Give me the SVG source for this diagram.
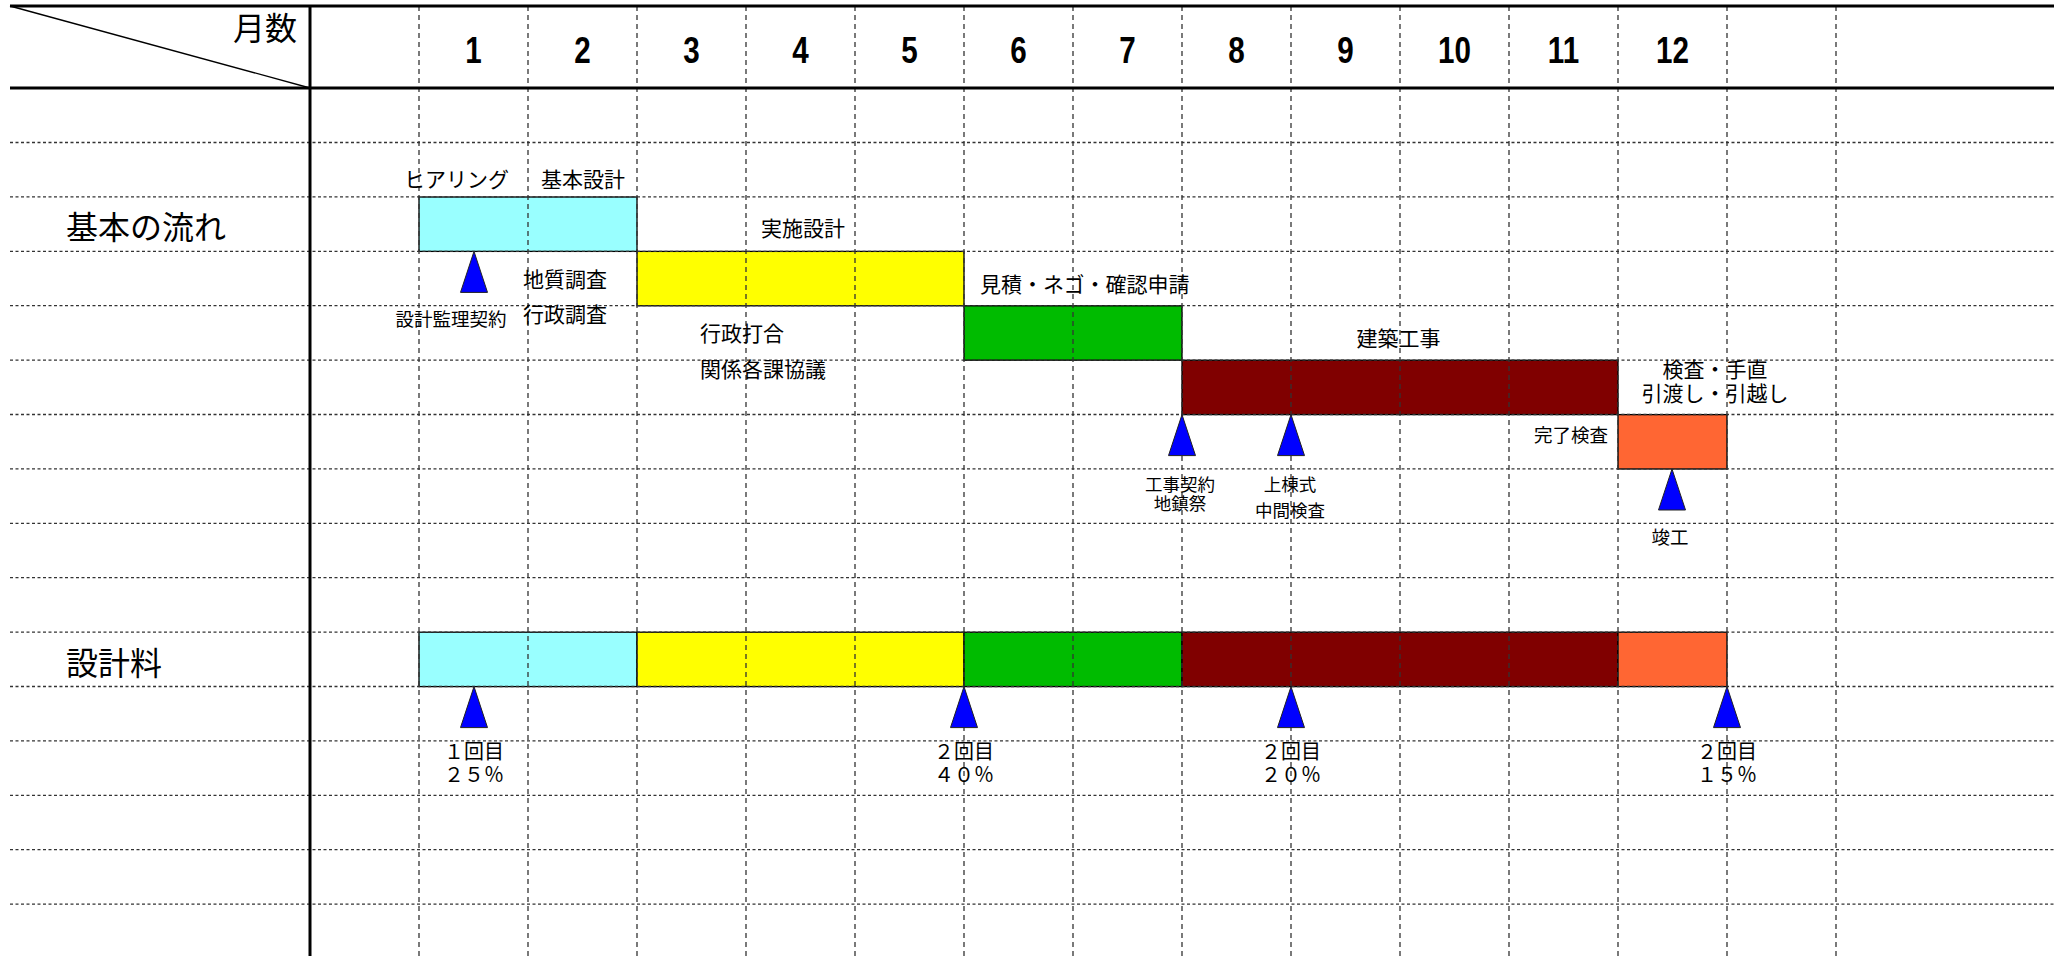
<svg xmlns="http://www.w3.org/2000/svg" width="2060" height="956" viewBox="0 0 2060 956">
<style>
.solid{stroke:#000;stroke-width:3;fill:none}
.hgrid{stroke:#333;stroke-width:1.3;stroke-dasharray:3 2.5;fill:none}
.vgrid{stroke:#333;stroke-width:1.3;stroke-dasharray:5 4;fill:none}
.bar{stroke:#000;stroke-width:1.3}
.c1{fill:#99FFFF}.c2{fill:#FFFF00}.c3{fill:#00BB00}.c4{fill:#800000}.c5{fill:#FF6633}
.tri{fill:#0000FF;stroke:#222;stroke-width:1}
text{font-family:"Noto Sans CJK JP","Noto Sans",sans-serif;fill:#000;font-weight:normal}
.lbl{font-size:21px}
.sm{font-size:18.5px}
.xs{font-size:17.5px}
.pay{font-size:20px}
.head{font-size:32px}
.num{font-family:"Liberation Sans",Arial,sans-serif;font-size:37px;font-weight:bold;text-anchor:middle}
.mid{text-anchor:middle}
</style>
<defs>
<path id="tri" class="tri" d="M0,0 L13.5,41 L-13.5,41 Z"/>
</defs>

<g id="bars-flow">
<g id="bar-hearing"><rect class="bar c1" x="419" y="197" width="218" height="54.4"/></g>
<g id="bar-jisshi"><rect class="bar c2" x="637" y="251.4" width="327" height="54.4"/></g>
<g id="bar-mitsumori"><rect class="bar c3" x="964" y="305.8" width="218" height="54.4"/></g>
<g id="bar-kenchiku"><rect class="bar c4" x="1182" y="360.2" width="436" height="54.4"/></g>
<g id="bar-kensa"><rect class="bar c5" x="1618" y="414.6" width="109" height="54.4"/></g>
</g>
<g id="bars-fee">
<g id="fee-1"><rect class="bar c1" x="419" y="632.2" width="218" height="54.4"/></g>
<g id="fee-2"><rect class="bar c2" x="637" y="632.2" width="327" height="54.4"/></g>
<g id="fee-3"><rect class="bar c3" x="964" y="632.2" width="218" height="54.4"/></g>
<g id="fee-4"><rect class="bar c4" x="1182" y="632.2" width="436" height="54.4"/></g>
<g id="fee-5"><rect class="bar c5" x="1618" y="632.2" width="109" height="54.4"/></g>
</g>

<g id="connectors">
<g id="hgrid">
<line class="hgrid" x1="10" y1="142.5" x2="2054" y2="142.5"/>
<line class="hgrid" x1="10" y1="196.9" x2="2054" y2="196.9"/>
<line class="hgrid" x1="10" y1="251.3" x2="2054" y2="251.3"/>
<line class="hgrid" x1="10" y1="305.7" x2="2054" y2="305.7"/>
<line class="hgrid" x1="10" y1="360.1" x2="2054" y2="360.1"/>
<line class="hgrid" x1="10" y1="414.5" x2="2054" y2="414.5"/>
<line class="hgrid" x1="10" y1="468.9" x2="2054" y2="468.9"/>
<line class="hgrid" x1="10" y1="523.3" x2="2054" y2="523.3"/>
<line class="hgrid" x1="10" y1="577.7" x2="2054" y2="577.7"/>
<line class="hgrid" x1="10" y1="632.1" x2="2054" y2="632.1"/>
<line class="hgrid" x1="10" y1="686.5" x2="2054" y2="686.5"/>
<line class="hgrid" x1="10" y1="740.9" x2="2054" y2="740.9"/>
<line class="hgrid" x1="10" y1="795.3" x2="2054" y2="795.3"/>
<line class="hgrid" x1="10" y1="849.7" x2="2054" y2="849.7"/>
<line class="hgrid" x1="10" y1="904.1" x2="2054" y2="904.1"/>
</g>
<g id="vgrid">
<line class="vgrid" x1="419" y1="6" x2="419" y2="956"/>
<line class="vgrid" x1="528" y1="6" x2="528" y2="956"/>
<line class="vgrid" x1="637" y1="6" x2="637" y2="956"/>
<line class="vgrid" x1="746" y1="6" x2="746" y2="956"/>
<line class="vgrid" x1="855" y1="6" x2="855" y2="956"/>
<line class="vgrid" x1="964" y1="6" x2="964" y2="956"/>
<line class="vgrid" x1="1073" y1="6" x2="1073" y2="956"/>
<line class="vgrid" x1="1182" y1="6" x2="1182" y2="956"/>
<line class="vgrid" x1="1291" y1="6" x2="1291" y2="956"/>
<line class="vgrid" x1="1400" y1="6" x2="1400" y2="956"/>
<line class="vgrid" x1="1509" y1="6" x2="1509" y2="956"/>
<line class="vgrid" x1="1618" y1="6" x2="1618" y2="956"/>
<line class="vgrid" x1="1727" y1="6" x2="1727" y2="956"/>
<line class="vgrid" x1="1836" y1="6" x2="1836" y2="956"/>
</g>
<g id="frame">
<line class="solid" x1="10" y1="6" x2="2054" y2="6"/>
<line class="solid" x1="10" y1="88" x2="2054" y2="88"/>
<line class="solid" x1="310" y1="6" x2="310" y2="956"/>
<line stroke="#000" stroke-width="1.3" x1="10" y1="6" x2="310" y2="88"/>
</g>
</g>

<g id="milestones">
<use href="#tri" x="474" y="251.4"/>
<use href="#tri" x="1182" y="414.6"/>
<use href="#tri" x="1291" y="414.6"/>
<use href="#tri" x="1672" y="469"/>
<use href="#tri" x="474" y="686.6"/>
<use href="#tri" x="964" y="686.6"/>
<use href="#tri" x="1291" y="686.6"/>
<use href="#tri" x="1727" y="686.6"/>
</g>

<g id="header">
<text x="297" y="40" font-size="32" font-weight="bold" text-anchor="end">月数</text>
<text class="num" transform="translate(473.5,63) scale(0.8,1)">1</text>
<text class="num" transform="translate(582.5,63) scale(0.8,1)">2</text>
<text class="num" transform="translate(691.5,63) scale(0.8,1)">3</text>
<text class="num" transform="translate(800.5,63) scale(0.8,1)">4</text>
<text class="num" transform="translate(909.5,63) scale(0.8,1)">5</text>
<text class="num" transform="translate(1018.5,63) scale(0.8,1)">6</text>
<text class="num" transform="translate(1127.5,63) scale(0.8,1)">7</text>
<text class="num" transform="translate(1236.5,63) scale(0.8,1)">8</text>
<text class="num" transform="translate(1345.5,63) scale(0.8,1)">9</text>
<text class="num" transform="translate(1454.5,63) scale(0.8,1)">10</text>
<text class="num" transform="translate(1563.5,63) scale(0.8,1)">11</text>
<text class="num" transform="translate(1672.5,63) scale(0.8,1)">12</text>
</g>

<g id="row-labels">
<text class="head" x="66" y="239">基本の流れ</text>
<text class="head" x="66" y="675">設計料</text>
</g>

<g id="flow-labels">
<text class="lbl mid" x="456.5" y="186.5">ヒアリング</text>
<text class="lbl mid" x="583" y="186.5">基本設計</text>
<text class="lbl mid" x="803" y="235.5">実施設計</text>
<text class="lbl mid" x="565" y="286.5">地質調査</text>
<text class="lbl mid" x="565" y="321.5">行政調査</text>
<text class="sm mid" x="451" y="325.5">設計監理契約</text>
<text class="lbl" x="700" y="340.5">行政打合</text>
<text class="lbl" x="700" y="376.5">関係各課協議</text>
<text class="lbl" x="980" y="291.5">見積・ネゴ・確認申請</text>
<text class="lbl mid" x="1398.5" y="345.5">建築工事</text>
<text class="lbl mid" x="1715" y="377"><tspan x="1715">検査・手直</tspan><tspan x="1715" dy="24">引渡し・引越し</tspan></text>
<text class="sm mid" x="1571" y="441.5">完了検査</text>
<text class="xs mid" x="1180" y="490.5"><tspan x="1180">工事契約</tspan><tspan x="1180" dy="19">地鎮祭</tspan></text>
<text class="xs mid" x="1290" y="490.5"><tspan x="1290">上棟式</tspan><tspan x="1290" dy="26">中間検査</tspan></text>
<text class="sm mid" x="1670" y="543.5">竣工</text>
</g>

<g id="fee-labels">
<text class="pay mid" x="474" y="758.5"><tspan x="474">１回目</tspan><tspan x="474" dy="23">２５％</tspan></text>
<text class="pay mid" x="964" y="758.5"><tspan x="964">２回目</tspan><tspan x="964" dy="23">４０％</tspan></text>
<text class="pay mid" x="1291" y="758.5"><tspan x="1291">２回目</tspan><tspan x="1291" dy="23">２０％</tspan></text>
<text class="pay mid" x="1727" y="758.5"><tspan x="1727">２回目</tspan><tspan x="1727" dy="23">１５％</tspan></text>
</g>
</svg>
